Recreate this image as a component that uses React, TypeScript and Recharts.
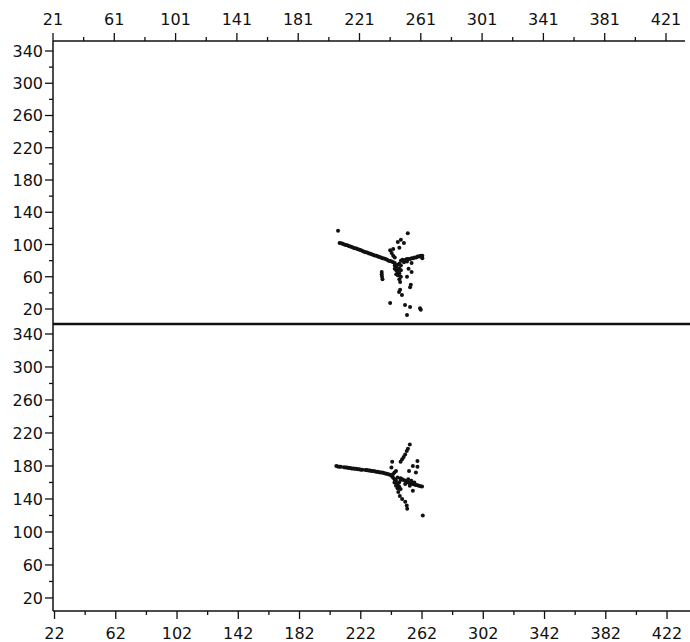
import React from 'react';
import {
  ScatterChart,
  Scatter,
  XAxis,
  YAxis,
  ReferenceLine,
} from 'recharts';

// ─── Data ─────────────────────────────────────────────────────────────────────

const topXLabels = [21, 61, 101, 141, 181, 221, 261, 301, 341, 381, 421];
const bottomXLabels = [22, 62, 102, 142, 182, 222, 262, 302, 342, 382, 422];
const yLabels = [20, 60, 100, 140, 180, 220, 260, 300, 340];

const topPoints = [
  { x: 207, y: 117 },
  // trailing line
  { x: 208, y: 102 }, { x: 209, y: 101.5 }, { x: 210, y: 101 }, { x: 211, y: 100 },
  { x: 212, y: 99.5 }, { x: 213, y: 99 }, { x: 214, y: 98 }, { x: 215, y: 97.5 },
  { x: 216, y: 97 }, { x: 217, y: 96 }, { x: 218, y: 95.5 }, { x: 219, y: 95 },
  { x: 220, y: 94 }, { x: 221, y: 93.5 }, { x: 222, y: 93 }, { x: 223, y: 92 },
  { x: 224, y: 91 }, { x: 225, y: 90.5 }, { x: 226, y: 90 }, { x: 227, y: 89 },
  { x: 228, y: 88.5 }, { x: 229, y: 88 }, { x: 230, y: 87 }, { x: 231, y: 86.5 },
  { x: 232, y: 86 }, { x: 233, y: 85 }, { x: 234, y: 84.5 }, { x: 235, y: 84 },
  { x: 236, y: 83 }, { x: 237, y: 82.5 }, { x: 238, y: 82 }, { x: 239, y: 81 },
  { x: 240, y: 80 }, { x: 241, y: 79.5 }, { x: 242, y: 79 }, { x: 243, y: 78 },
  { x: 244, y: 77 },
  // core
  { x: 244, y: 74 }, { x: 245, y: 72 }, { x: 246, y: 70 }, { x: 245, y: 68 },
  { x: 246, y: 66 }, { x: 247, y: 64 }, { x: 245, y: 63 }, { x: 247, y: 70 },
  { x: 248, y: 68 }, { x: 246, y: 75 }, { x: 247, y: 76 }, { x: 248, y: 74 },
  { x: 244, y: 70 }, { x: 246, y: 62 }, { x: 248, y: 60 }, { x: 247, y: 57 },
  // right branch
  { x: 248, y: 80 }, { x: 249, y: 81 }, { x: 250, y: 80 }, { x: 251, y: 81 },
  { x: 252, y: 82 }, { x: 253, y: 82 }, { x: 254, y: 82 }, { x: 255, y: 83 },
  { x: 256, y: 83 }, { x: 257, y: 84 }, { x: 258, y: 84 }, { x: 259, y: 85 },
  { x: 260, y: 85 }, { x: 261, y: 86 }, { x: 262, y: 86 }, { x: 262, y: 83 },
  { x: 250, y: 78 }, { x: 252, y: 79 },
  // upper scatter
  { x: 252.5, y: 114 }, { x: 248, y: 106 }, { x: 246, y: 103 }, { x: 250, y: 102 },
  { x: 241, y: 93 }, { x: 243, y: 94.5 }, { x: 242, y: 89.5 }, { x: 243, y: 86 },
  { x: 247, y: 96 }, { x: 244, y: 84 },
  // left blob
  { x: 235.5, y: 66 }, { x: 235.5, y: 63 }, { x: 235.7, y: 60 }, { x: 236, y: 57 },
  // lower scatter
  { x: 255, y: 66 }, { x: 252, y: 60 }, { x: 254.5, y: 50 }, { x: 254, y: 47 },
  { x: 247.5, y: 53.5 }, { x: 247.5, y: 44 }, { x: 248.7, y: 37.5 }, { x: 246.8, y: 41 },
  { x: 255, y: 77 }, { x: 253, y: 70 },
  { x: 241, y: 27.4 }, { x: 250.7, y: 25 }, { x: 254, y: 22.5 }, { x: 260.5, y: 21 },
  { x: 252, y: 12.6 }, { x: 261, y: 19 },
];

const bottomPoints = [
  // trailing line
  { x: 206, y: 180 }, { x: 207, y: 179.5 }, { x: 208, y: 179 }, { x: 209, y: 179 },
  { x: 211, y: 178.5 }, { x: 212, y: 178 }, { x: 213, y: 178 }, { x: 214, y: 177.5 },
  { x: 215, y: 177.5 }, { x: 216, y: 177 }, { x: 217, y: 177 }, { x: 218, y: 176.5 },
  { x: 219, y: 176.5 }, { x: 220, y: 176 }, { x: 221, y: 176 }, { x: 222, y: 175.5 },
  { x: 223, y: 175.5 }, { x: 225, y: 175 }, { x: 226, y: 175 }, { x: 227, y: 174.5 },
  { x: 228, y: 174.5 }, { x: 229, y: 174 }, { x: 230, y: 174 }, { x: 231, y: 173.5 },
  { x: 232, y: 173 }, { x: 233, y: 173 }, { x: 234, y: 172.5 }, { x: 235, y: 172 },
  { x: 236, y: 172 }, { x: 237, y: 171.5 }, { x: 238, y: 171 }, { x: 239, y: 170.5 },
  { x: 240, y: 170 }, { x: 241, y: 169.5 }, { x: 242, y: 168 },
  // core
  { x: 243, y: 166 }, { x: 244, y: 164 }, { x: 245, y: 162 }, { x: 244, y: 160 },
  { x: 246, y: 158 }, { x: 245, y: 156 }, { x: 247, y: 160 }, { x: 248, y: 163 },
  { x: 246, y: 166 }, { x: 243, y: 170 }, { x: 244, y: 172 }, { x: 245, y: 174 },
  { x: 247, y: 155 }, { x: 248, y: 152 }, { x: 246, y: 153 },
  // right branch
  { x: 248, y: 165 }, { x: 249, y: 164 }, { x: 250, y: 163 }, { x: 251, y: 162 },
  { x: 252, y: 161 }, { x: 253, y: 160 }, { x: 254, y: 159 }, { x: 255, y: 158.5 },
  { x: 256, y: 158 }, { x: 257, y: 157.5 }, { x: 258, y: 157 }, { x: 259, y: 156.5 },
  { x: 260, y: 156 }, { x: 261, y: 155.5 }, { x: 262, y: 155 }, { x: 253, y: 164 },
  { x: 255, y: 162 }, { x: 257, y: 160 }, { x: 251, y: 158 }, { x: 254, y: 156 },
  // upward diagonal
  { x: 254, y: 206 }, { x: 252.8, y: 201 }, { x: 252, y: 198 }, { x: 251, y: 194 },
  { x: 250, y: 191 }, { x: 249, y: 188 }, { x: 248, y: 185 },
  // others
  { x: 242.5, y: 185 }, { x: 259, y: 186 }, { x: 259, y: 179 }, { x: 253.5, y: 174 },
  { x: 256, y: 180 }, { x: 258, y: 172 }, { x: 242, y: 178 },
  // lower chain
  { x: 246.5, y: 148.5 }, { x: 247.5, y: 143.5 }, { x: 249, y: 140 }, { x: 251, y: 136.5 },
  { x: 252, y: 132 }, { x: 252.3, y: 128 }, { x: 256, y: 150 }, { x: 262.5, y: 120 },
];

// ─── Ticks ────────────────────────────────────────────────────────────────────

const FONT = '"DejaVu Sans", sans-serif';
const INK = '#111';

const withMinor = (labels: number[], max: number) => {
  const out: number[] = [];
  labels.forEach((v) => {
    out.push(v);
    if (v + 20 <= max) out.push(v + 20);
  });
  return out;
};

function TopTick(props: any) {
  const { x, y, payload } = props;
  const major = topXLabels.includes(payload.value);
  return (
    <g>
      <line x1={x} x2={x} y1={y} y2={y - (major ? 8 : 4)} stroke={INK} strokeWidth={1.3} />
      {major && (
        <text x={x} y={y - 16} textAnchor="middle" fontSize={16} fontFamily={FONT} fill={INK}>
          {payload.value}
        </text>
      )}
    </g>
  );
}

function BottomTick(props: any) {
  const { x, y, payload } = props;
  const major = bottomXLabels.includes(payload.value);
  return (
    <g>
      <line x1={x} x2={x} y1={y} y2={y + (major ? 8 : 4)} stroke={INK} strokeWidth={1.3} />
      {major && (
        <text x={x} y={y + 28} textAnchor="middle" fontSize={16} fontFamily={FONT} fill={INK}>
          {payload.value}
        </text>
      )}
    </g>
  );
}

function LeftTick(props: any) {
  const { x, y, payload } = props;
  const major = yLabels.includes(payload.value);
  return (
    <g>
      <line x1={x} x2={x - (major ? 8 : 4)} y1={y} y2={y} stroke={INK} strokeWidth={1.3} />
      {major && (
        <text x={x - 10} y={y + 6} textAnchor="end" fontSize={16} fontFamily={FONT} fill={INK}>
          {payload.value}
        </text>
      )}
    </g>
  );
}

const Dot = (p: any) => <circle cx={p.cx} cy={p.cy} r={2} fill={INK} />;

const axisLine = { stroke: INK, strokeWidth: 1.5 };

// ─── App ──────────────────────────────────────────────────────────────────────

export default function App() {
  const yTicks = withMinor(yLabels, 340);
  return (
    <div style={{ position: 'absolute', left: 0, top: 0, width: 690, height: 642, background: '#fff' }}>
      <div style={{ position: 'absolute', left: 0, top: 0 }}>
        <ScatterChart width={690} height={326} margin={{ top: 0, right: 5, bottom: 2, left: 0 }}>
          <XAxis
            type="number"
            dataKey="x"
            orientation="top"
            height={41}
            domain={[21, 433.4]}
            ticks={withMinor(topXLabels, 421)}
            interval={0}
            tickSize={0}
            tickMargin={0}
            tickLine={false}
            axisLine={axisLine}
            tick={<TopTick />}
            allowDataOverflow
          />
          <YAxis
            type="number"
            dataKey="y"
            width={53}
            domain={[1.4, 352.4]}
            ticks={yTicks}
            interval={0}
            tickSize={0}
            tickMargin={0}
            tickLine={false}
            axisLine={axisLine}
            tick={<LeftTick />}
            allowDataOverflow
          />
          <Scatter data={topPoints} shape={Dot} isAnimationActive={false} />
        </ScatterChart>
      </div>
      <div style={{ position: 'absolute', left: 0, top: 322 }}>
        <ScatterChart width={690} height={320} margin={{ top: 2, right: 0, bottom: 0, left: 0 }}>
          <XAxis
            type="number"
            dataKey="x"
            orientation="bottom"
            height={31}
            domain={[21, 437]}
            ticks={withMinor(bottomXLabels, 422)}
            interval={0}
            tickSize={0}
            tickMargin={0}
            tickLine={false}
            axisLine={axisLine}
            tick={<BottomTick />}
            allowDataOverflow
          />
          <YAxis
            type="number"
            dataKey="y"
            width={53}
            domain={[4.2, 352.1]}
            ticks={yTicks}
            interval={0}
            tickSize={0}
            tickMargin={0}
            tickLine={false}
            axisLine={axisLine}
            tick={<LeftTick />}
            allowDataOverflow
          />
          <ReferenceLine y={352.1} stroke={INK} strokeWidth={2.5} ifOverflow="visible" />
          <Scatter data={bottomPoints} shape={Dot} isAnimationActive={false} />
        </ScatterChart>
      </div>
    </div>
  );
}
